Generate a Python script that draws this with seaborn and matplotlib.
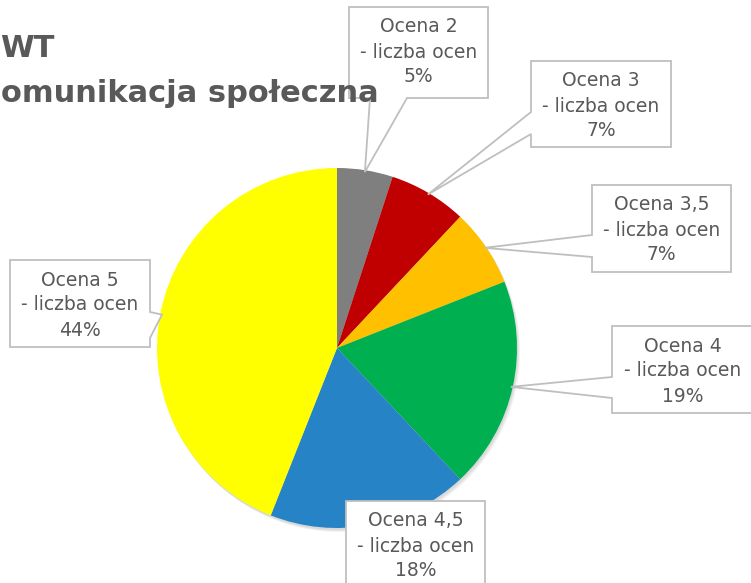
import numpy as np
import matplotlib
matplotlib.use("Agg")
import matplotlib.pyplot as plt
from matplotlib.patches import Polygon, Circle
import seaborn as sns

# Data

labels = ["Ocena 2", "Ocena 3", "Ocena 3,5", "Ocena 4", "Ocena 4,5", "Ocena 5"]
shares = [5, 7, 7, 19, 18, 44]
colors = ["#7F7F7F", "#C00000", "#FFC000", "#00B050", "#2683C6", "#FFFF00"]
title_lines = ["WT", "omunikacja społeczna"]

# Layout (pixel coords, y from top)

W, H = 751, 583
CX, CY, R = 337, 348, 180
TXT = "#595959"
EDGE = "#BFBFBF"

# box: x0, y0, x1, y1, pointer side, pointer base from, pointer base to
boxes = {
    "Ocena 2": (349, 7, 488, 98, "bottom", 370, 407),
    "Ocena 3": (531, 61, 671, 147, "left", 112, 134),
    "Ocena 3,5": (592, 185, 731, 272, "left", 235, 257),
    "Ocena 4": (612, 326, 756, 413, "left", 377, 398),
    "Ocena 4,5": (346, 501, 485, 590, None, 0, 0),
    "Ocena 5": (10, 260, 150, 347, "right", 312, 338),
}

sns.set_theme(style="white")
plt.rcParams["font.family"] = ["DejaVu Sans"]

fig = plt.figure(figsize=(W / 100, H / 100), dpi=100)
ax = fig.add_axes([0, 0, 1, 1])


def py(y):
    return H - y


# soft shadow under the pie
for k in range(3):
    ax.add_patch(Circle((CX + 1 + k, py(CY + 2 + k)), R, color="black", alpha=0.05, lw=0, zorder=1))

wedges, _ = ax.pie(shares, colors=colors, startangle=90, counterclock=False,
                   center=(CX, py(CY)), radius=R, frame=True,
                   wedgeprops=dict(linewidth=0, zorder=2))
ax.set_xlim(0, W)
ax.set_ylim(0, H)
ax.set_aspect("equal")
ax.axis("off")

# Callout labels

for w, lab, val in zip(wedges, labels, shares):
    x0, y0, x1, y1, side, b0, b1 = boxes[lab]
    mid = np.deg2rad((w.theta1 + w.theta2) / 2)
    ap = (CX + R * 0.99 * np.cos(mid), py(CY) + R * 0.99 * np.sin(mid))
    pts = [(x0, py(y0))]
    if side == "top":
        pts += [(b0, py(y0)), ap, (b1, py(y0))]
    pts += [(x1, py(y0))]
    if side == "right":
        pts += [(x1, py(b0)), ap, (x1, py(b1))]
    pts += [(x1, py(y1))]
    if side == "bottom":
        pts += [(b1, py(y1)), ap, (b0, py(y1))]
    pts += [(x0, py(y1))]
    if side == "left":
        pts += [(x0, py(b1)), ap, (x0, py(b0))]
    ax.add_patch(Polygon(pts, closed=True, facecolor="white", edgecolor=EDGE,
                         linewidth=1.3, zorder=5))
    cx = (x0 + x1) / 2 if x1 < W else (x0 + W) / 2 + 1
    ax.text(cx, py(y0 + 45), f"{lab}\n- liczba ocen\n{val}%", ha="center", va="center",
            fontsize=13.5, color=TXT, linespacing=1.4, zorder=6)

# Title (cut at the left edge as in the source slide)

ax.text(0, py(57), title_lines[0], fontsize=22, fontweight="bold", color=TXT,
        ha="left", va="baseline", zorder=7)
ax.text(1, py(102), title_lines[1], fontsize=22, fontweight="bold", color=TXT,
        ha="left", va="baseline", zorder=7)

fig.savefig("out.png", dpi=100)
